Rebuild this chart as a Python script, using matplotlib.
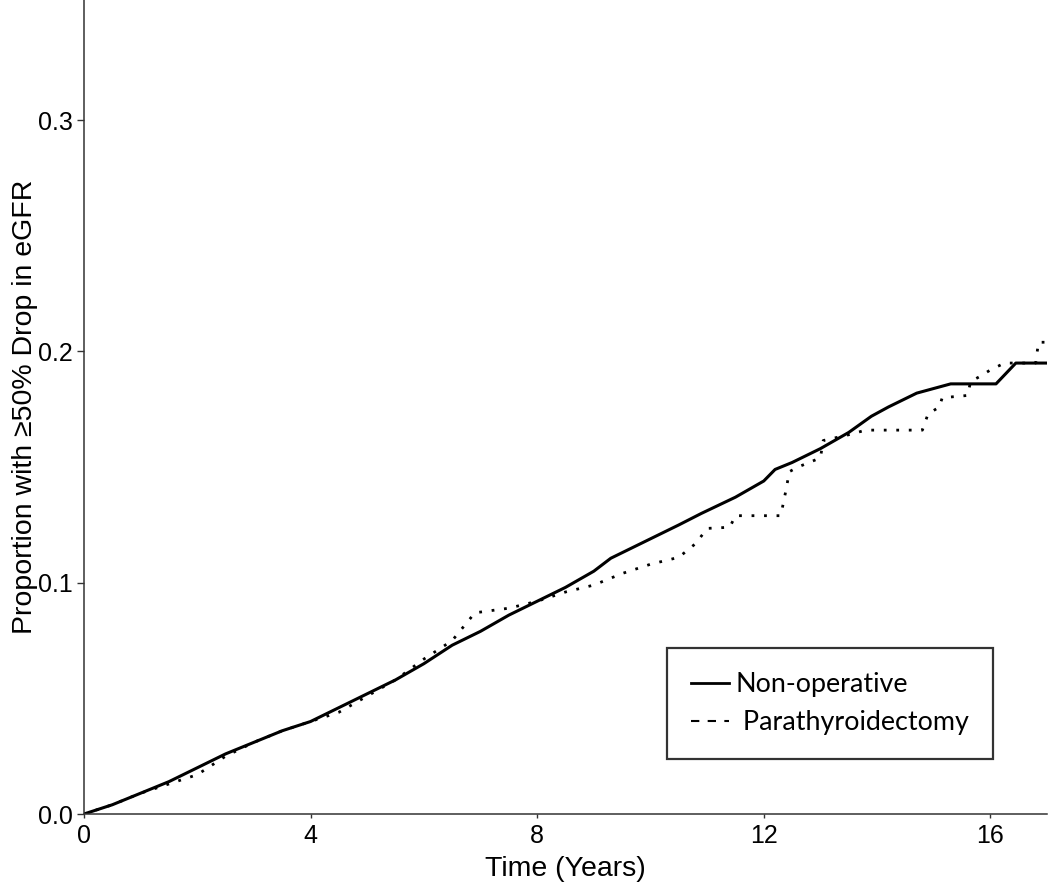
import numpy as np
import matplotlib.pyplot as plt
from matplotlib.lines import Line2D

plt.rcParams['font.family'] = ['Liberation Sans', 'DejaVu Sans']

# Courbe non-opératoire (incidence cumulée)
t_nonop = [0, 0.5, 1, 1.5, 2, 2.5, 3, 3.5, 4, 4.5, 5, 5.5, 6, 6.5, 7, 7.5, 8,
           8.5, 9, 9.3, 9.5, 10, 10.5, 10.9, 11.5, 12, 12.2, 12.5, 13, 13.5,
           13.9, 14.2, 14.7, 15.3, 16.1, 16.45, 17]
y_nonop = [0, 0.004, 0.009, 0.014, 0.020, 0.026, 0.031, 0.036, 0.040, 0.046,
           0.052, 0.058, 0.065, 0.073, 0.079, 0.086, 0.092, 0.098, 0.105,
           0.1106, 0.113, 0.119, 0.125, 0.130, 0.137, 0.144, 0.149, 0.152,
           0.158, 0.165, 0.172, 0.176, 0.182, 0.186, 0.186, 0.195, 0.195]

# Courbe parathyroïdectomie
t_ptx = [0, 0.5, 1, 1.5, 2, 2.5, 3, 3.5, 4, 4.5, 5, 5.5, 6, 6.5, 6.9, 7.5, 8,
         8.5, 9, 9.5, 10, 10.5, 10.8, 11.0, 11.4, 11.5, 12.3, 12.4, 12.45,
         12.6, 13.0, 13.05, 13.5, 13.8, 14.8, 14.9, 15.1, 15.15, 15.6, 15.65,
         15.8, 16.0, 16.25, 16.8, 16.85, 17]
y_ptx = [0, 0.004, 0.009, 0.013, 0.017, 0.025, 0.031, 0.036, 0.040, 0.044,
         0.051, 0.058, 0.067, 0.075, 0.087, 0.089, 0.092, 0.096, 0.099, 0.104,
         0.108, 0.111, 0.117, 0.1235, 0.124, 0.129, 0.129, 0.141, 0.148,
         0.150, 0.154, 0.1615, 0.164, 0.166, 0.166, 0.173, 0.176, 0.180,
         0.181, 0.187, 0.189, 0.192, 0.195, 0.195, 0.204, 0.204]

xticks = [0, 4, 8, 12, 16]
yticks = [0.0, 0.1, 0.2, 0.3]

fig = plt.figure(figsize=(10.5, 8.88), dpi=100)
ax = fig.add_axes([84/1050, 1 - 814/888, (1047-84)/1050, 814/888])

ax.plot(t_nonop, y_nonop, color='black', linewidth=2.2, linestyle='-')
ax.plot(t_ptx, y_ptx, color='black', linewidth=2.0, linestyle=(0, (1, 3.5)))

ax.set_xlim(0, 17)
ax.set_ylim(0, 0.352)
ax.set_xticks(xticks)
ax.set_xticklabels([str(v) for v in xticks])
ax.set_yticks(yticks)
ax.set_yticklabels(['%.1f' % v for v in yticks])

for s in ['top', 'right']:
    ax.spines[s].set_visible(False)
for s in ['left', 'bottom']:
    ax.spines[s].set_color('#333333')
    ax.spines[s].set_linewidth(1.1)

ax.tick_params(axis='x', length=3, width=1.0, color='#333333', pad=4, labelsize=18)
ax.tick_params(axis='y', length=5, width=1.0, color='#333333', pad=3, labelsize=18)

ax.set_xlabel('Time (Years)', fontsize=20.5, labelpad=6)
ax.set_ylabel('Proportion with \u226550% Drop in eGFR', fontsize=20.5, labelpad=0)

handles = [Line2D([], [], color='black', linewidth=2.0, linestyle='-'),
           Line2D([], [], color='black', linewidth=1.5, linestyle=(0, (4, 4)))]
leg = ax.legend(handles, ['Non-operative', ' Parathyroidectomy'],
                loc='upper left', bbox_to_anchor=(667/1050, 1 - 648/888),
                bbox_transform=fig.transFigure, borderaxespad=0,
                prop={'family': ['Lato', 'DejaVu Sans'], 'size': 19.4},
                frameon=True, fancybox=False, edgecolor='black',
                handlelength=1.4, handletextpad=0.25, labelspacing=0.48,
                borderpad=0.9)
leg.get_frame().set_linewidth(1.6)

fig.savefig('out.png', dpi=100)
